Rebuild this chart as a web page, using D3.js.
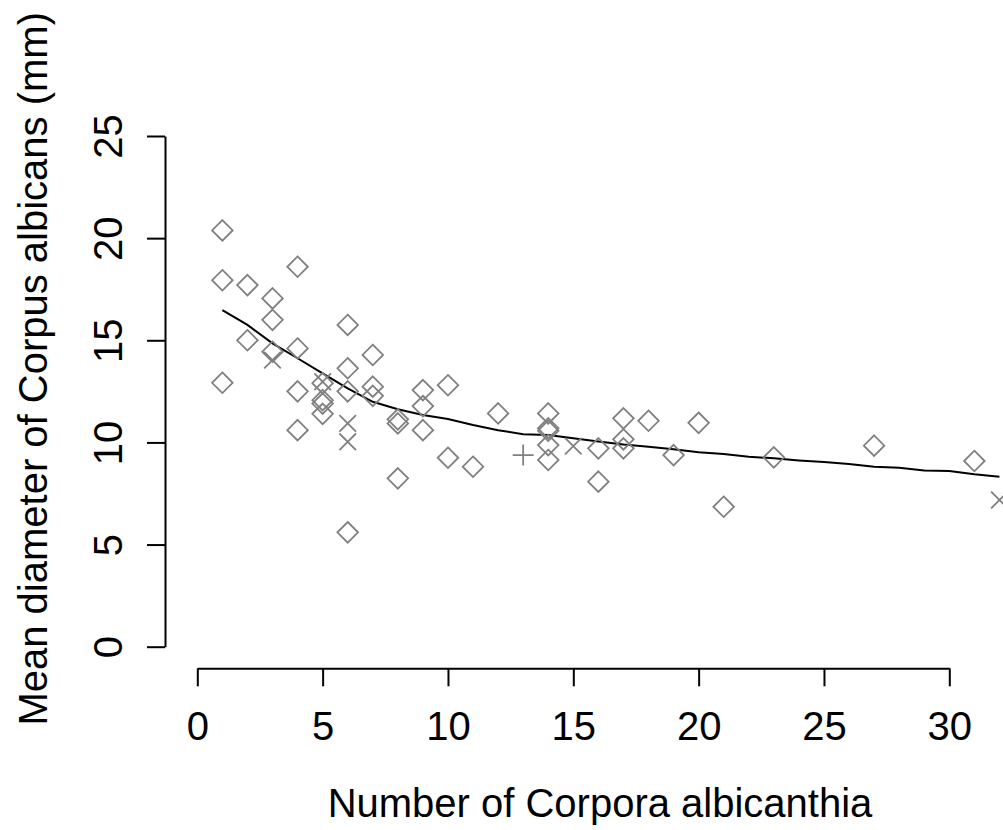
<!DOCTYPE html>
<html><head>
<meta charset="UTF-8">
<script src="https://cdn.jsdelivr.net/npm/d3@7"></script>
<style>
body{margin:0;background:#fff}
text{font-family:"Liberation Sans",Arial,Helvetica,sans-serif;fill:#000}
</style>
</head><body>
<div id="chart"></div>
<script>
// open diamonds
var diamondX = [1,1,1,2,2,3,3,3,4,4,4,4,5,5,5,5,6,6,6,6,7,7,7,8,8,8,9,9,9,10,10,11,12,14,14,14,14,14,16,16,17,17,17,18,19,20,21,23,27,31];
var diamondY = [20.38,17.94,12.92,17.7,15.0,17.05,16.0,14.44,18.6,14.6,12.5,10.6,12.9,12.07,11.9,11.4,15.75,13.63,12.5,5.6,14.28,12.73,12.28,11.13,10.93,8.24,12.56,11.78,10.6,12.8,9.25,8.81,11.42,11.42,10.69,10.57,9.87,9.14,9.71,8.08,11.18,10.15,9.71,11.06,9.38,10.96,6.85,9.27,9.84,9.09];
// crosses (x) and plus
var crossX = [3,5,6,6,15,32];
var crossY = [14.03,12.97,10.93,10.03,9.82,7.18];
var plusX = [13];
var plusY = [9.38];
// smooth curve
var fitX = [1,2,3,4,5,6,7,8,9,10,11,12,13,14,15,16,17,18,19,20,21,22,23,24,25,26,27,28,29,30,31,32];
var fitY = [16.48,15.75,14.85,14.12,13.38,12.65,11.99,11.62,11.34,11.15,10.85,10.6,10.4,10.36,10.2,10.05,9.9,9.79,9.66,9.52,9.43,9.3,9.22,9.12,9.04,8.94,8.81,8.76,8.63,8.6,8.44,8.32];
var xTicks = [0,5,10,15,20,25,30];
var yTicks = [0,5,10,15,20,25];

var W = 1003, H = 830;
var grey = "#808080";

var svg = d3.select("#chart").append("svg")
  .attr("width", W).attr("height", H);
svg.append("rect").attr("width", W).attr("height", H).attr("fill", "#fff");

var x = d3.scaleLinear().domain([0,30]).range([197.3,949.3]);
var y = d3.scaleLinear().domain([0,25]).range([646.7,136]);

// x axis
var gx = svg.append("g").attr("transform","translate(0,668.3)")
  .call(d3.axisBottom(x).tickValues(xTicks).tickSize(18).tickSizeOuter(0).tickPadding(0));
gx.selectAll("text").attr("y", null).attr("dy", null).attr("transform","translate(0,72)")
  .style("font-size","40px");

// y axis
var gy = svg.append("g").attr("transform","translate(165,0)")
  .call(d3.axisLeft(y).tickValues(yTicks).tickSize(18).tickSizeOuter(0));
gy.selectAll("text").attr("x", null).attr("dy", null).attr("text-anchor","middle")
  .attr("transform","translate(-43,0) rotate(-90)")
  .style("font-size","40px");

svg.selectAll(".domain, .tick line").attr("stroke","#000").attr("stroke-width",2);
svg.selectAll(".tick text").attr("font-family",null).attr("font-size",null).attr("fill","#000");

// axis titles
svg.append("text").attr("x",600).attr("y",817).attr("text-anchor","middle")
  .style("font-size","40px").text("Number of Corpora albicanthia");
svg.append("text").attr("transform","translate(47,12) rotate(-90)").attr("text-anchor","end")
  .style("font-size","40px").text("Mean diameter of Corpus albicans (mm)");

// smooth curve
var fit = fitX.map(function(d,i){ return [d, fitY[i]]; });
svg.append("path").datum(fit)
  .attr("fill","none").attr("stroke","#000").attr("stroke-width",2)
  .attr("d", d3.line().x(function(d){return x(d[0]);}).y(function(d){return y(d[1]);}));

// points
var dia = diamondX.map(function(d,i){ return [d, diamondY[i]]; });
svg.append("g").selectAll("path").data(dia).enter().append("path")
  .attr("transform", function(d){ return "translate("+x(d[0])+","+y(d[1])+")"; })
  .attr("d","M0,-10.3L10.3,0L0,10.3L-10.3,0Z")
  .attr("fill","none").attr("stroke",grey).attr("stroke-width",1.8);

var crs = crossX.map(function(d,i){ return [d, crossY[i]]; });
svg.append("g").selectAll("path").data(crs).enter().append("path")
  .attr("transform", function(d){ return "translate("+x(d[0])+","+y(d[1])+")"; })
  .attr("d","M-8.3,-8.3L8.3,8.3M-8.3,8.3L8.3,-8.3")
  .attr("fill","none").attr("stroke",grey).attr("stroke-width",1.8);

var pls = plusX.map(function(d,i){ return [d, plusY[i]]; });
svg.append("g").selectAll("path").data(pls).enter().append("path")
  .attr("transform", function(d){ return "translate("+x(d[0])+","+y(d[1])+")"; })
  .attr("d","M-10.5,0L10.5,0M0,-10.5L0,10.5")
  .attr("fill","none").attr("stroke",grey).attr("stroke-width",1.8);
</script>
</body></html>
